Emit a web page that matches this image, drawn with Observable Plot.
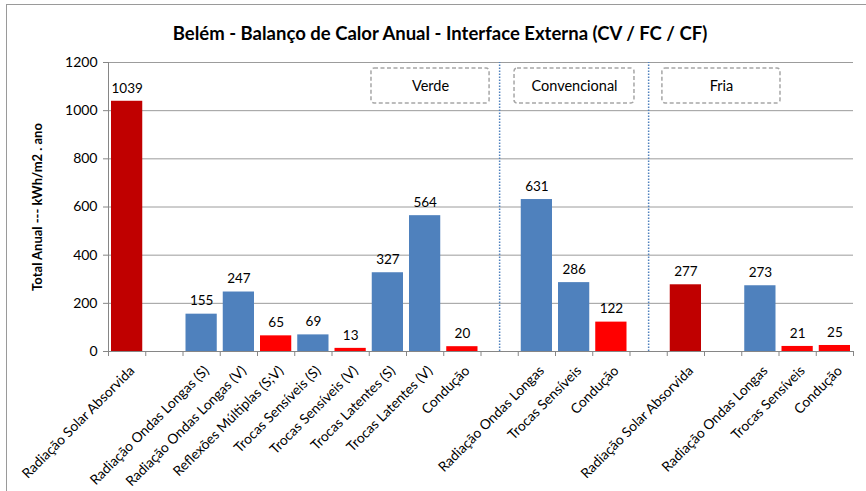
<!DOCTYPE html>
<html>
<head>
<meta charset="utf-8">
<script src="https://cdn.jsdelivr.net/npm/d3@7"></script>
<script src="https://cdn.jsdelivr.net/npm/@observablehq/plot@0.6"></script>
<style>
  body { margin: 0; background: #fff; }
  #wrap { position: relative; width: 866px; height: 491px; overflow: hidden; background: #fff; }
  #frame { position: absolute; left: 6px; top: 4px; width: 900px; height: 600px; border: 1px solid #9a9a9a; box-sizing: border-box; }
  #title { position: absolute; left: 0; top: 22px; width: 880px; text-align: center; font: bold 18.5px Lato, sans-serif; color: #000; line-height: 22px; }
  #chart { position: absolute; left: 0; top: 45px; }
</style>
</head>
<body>
<div id="wrap">
  <div id="frame"></div>
  <div id="title"></div>
  <div id="chart"></div>
</div>
<script>
// ---- data ----
const titleText = "Belém - Balanço de Calor Anual - Interface Externa (CV / FC / CF)";
const yLabel = "Total Anual --- kWh/m2 . ano";
const slots = [
  "Radiação Solar Absorvida", "",
  "Radiação Ondas Longas (S)", "Radiação Ondas Longas (V)", "Reflexões Múltiplas (S;V)",
  "Trocas Sensíveis (S)", "Trocas Sensíveis (V)", "Trocas Latentes (S)", "Trocas Latentes (V)", "Condução",
  "",
  "Radiação Ondas Longas", "Trocas Sensíveis", "Condução",
  "",
  "Radiação Solar Absorvida", "", "Radiação Ondas Longas", "Trocas Sensíveis", "Condução"
];
const values = [1039, null, 155, 247, 65, 69, 13, 327, 564, 20, null, 631, 286, 122, null, 277, null, 273, 21, 25];
const kinds = ["solar", null, "fluxo", "fluxo", "calor", "fluxo", "calor", "fluxo", "fluxo", "calor", null,
               "fluxo", "fluxo", "calor", null, "solar", null, "fluxo", "calor", "calor"];
const groups = ["Verde", "Verde", "Verde", "Verde", "Verde", "Verde", "Verde", "Verde", "Verde", "Verde", "",
                "Convencional", "Convencional", "Convencional", "",
                "Fria", "Fria", "Fria", "Fria", "Fria"];
const groupNames = ["Verde", "Convencional", "Fria"];
const yTicks = [0, 200, 400, 600, 800, 1000, 1200];

// ---- derived tables ----
const rows = slots.map((name, i) => ({i, name, value: values[i], kind: kinds[i], group: groups[i]}));
const bars = rows.filter(d => d.value != null);
const named = rows.filter(d => d.name !== "");
const dividers = rows.filter(d => d.group === "").map(d => d.i + 0.5);

// label boxes (annotation placement, in slot / value units)
const boxes = [
  {name: groupNames[0], x1: 7.06, x2: 10.23},
  {name: groupNames[1], x1: 10.9, x2: 14.12},
  {name: groupNames[2], x1: 14.87, x2: 18.04}
].map(b => ({...b, y1: 1030, y2: 1175}));

document.getElementById("title").textContent = titleText;

const chart = Plot.plot({
  width: 866,
  height: 446,
  marginLeft: 108,
  marginRight: 13,
  marginTop: 17,
  marginBottom: 140,
  style: {fontFamily: "Lato, sans-serif", fontSize: "13px", color: "#000", background: "transparent", overflow: "visible"},
  x: {type: "linear", domain: [0, slots.length]},
  y: {domain: [0, 1200]},
  color: {type: "ordinal", domain: ["solar", "fluxo", "calor"], range: ["#C00000", "#4F81BD", "#FF0000"]},
  marks: [
    Plot.gridY(yTicks, {stroke: "#9c9c9c", strokeOpacity: 1}),
    Plot.ruleX(dividers, {y1: 0, y2: 1200, stroke: "#4F81BD", strokeWidth: 1.5, strokeDasharray: "1.5,1.5"}),
    Plot.rectY(bars, {x1: "i", x2: d => d.i + 1, y: "value", fill: "kind", insetLeft: 3, insetRight: 3}),
    Plot.text(bars, {x: d => d.i + 0.5, y: "value", text: d => String(d.value), dy: -13, fontSize: 13.5, fill: "#000"}),
    Plot.rect(boxes, {x1: "x1", x2: "x2", y1: "y1", y2: "y2", fill: "white", stroke: "#a6a6a6", strokeWidth: 1.5, strokeDasharray: "4,2.5", rx: 3}),
    Plot.text(boxes, {x: d => (d.x1 + d.x2) / 2, y: d => (d.y1 + d.y2) / 2, text: "name", fontSize: 14.5, fill: "#000"}),
    Plot.ruleX([0], {stroke: "#868686"}),
    Plot.ruleY([0], {stroke: "#868686"}),
    Plot.axisY(yTicks, {tickSize: 5, tickPadding: 6, fontSize: 14, stroke: "#868686", fill: "#000", label: null, tickFormat: d => String(d)}),
    Plot.axisX(d3.range(0, slots.length + 1), {tickSize: 5, tickFormat: () => "", stroke: "#868686", label: null}),
    Plot.text(named, {x: d => d.i + 0.5, frameAnchor: "bottom", text: "name", rotate: -45, textAnchor: "end", lineAnchor: "middle", dx: 5, dy: 17, fontSize: 13.8, fill: "#000"}),
    Plot.text([yLabel], {frameAnchor: "left", rotate: -90, textAnchor: "middle", lineAnchor: "middle", dx: -71, fontSize: 13, fontWeight: "bold", fill: "#000"})
  ]
});
document.getElementById("chart").appendChild(chart);
</script>
</body>
</html>
